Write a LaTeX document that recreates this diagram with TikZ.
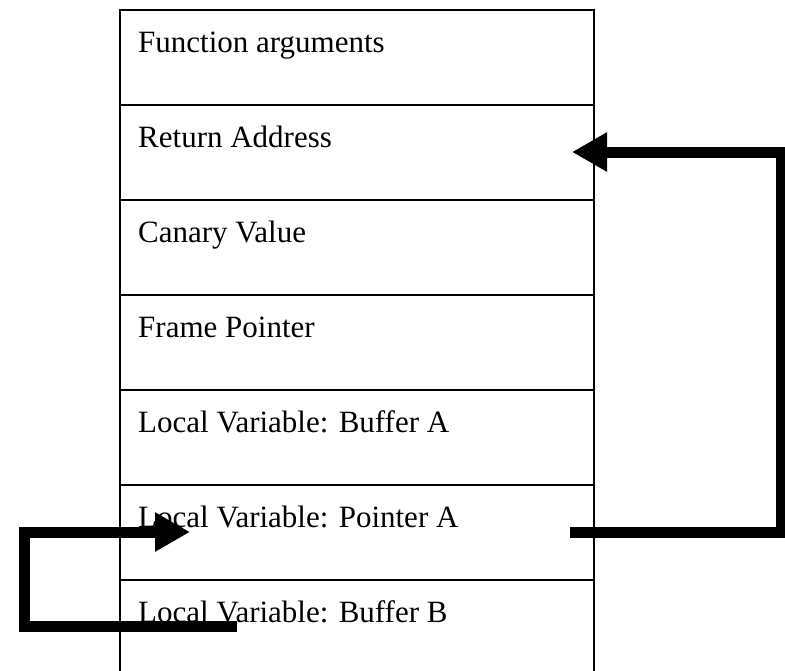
\documentclass[tikz,border=0pt]{standalone}
\usepackage{fontspec}
\setmainfont{Liberation Serif}
\usetikzlibrary{arrows.meta}
\tikzset{
  row/.style={draw=black, line width=2pt, minimum width=474pt, minimum height=95pt, anchor=north west, inner sep=0pt},
  lbl/.style={anchor=base west, inner sep=0pt, font=\fontsize{31}{37}\selectfont},
  bigarrow/.style={line width=11pt, line join=miter, -{Triangle[length=35pt,width=37pt]}}
}
\begin{document}
\begin{tikzpicture}[x=1pt,y=-1pt]
\useasboundingbox (0,0) rectangle (785,670);
\clip (0,0) rectangle (785,670);
\node[row] (r1) at (119,9) {};
\node[row] (r2) at (119,104) {};
\node[row] (r3) at (119,199) {};
\node[row] (r4) at (119,294) {};
\node[row] (r5) at (119,389) {};
\node[row] (r6) at (119,484) {};
\node[row] (r7) at (119,579) {};
\node[lbl] (t1) at (138,52) {Function arguments};
\node[lbl] (t2) at (138,147) {Return Address};
\node[lbl] (t3) at (138,242) {Canary Value};
\node[lbl] (t4) at (138,337) {Frame Pointer};
\node[lbl] (t5) at (138,432) {Local Variable: Buffer A};
\node[lbl] (t6) at (138,527) {Local Variable: Pointer A};
\node[lbl] (t7) at (138,622) {Local Variable: Buffer B};
\coordinate (ps) at (570,532);
\coordinate (pc1) at (781,532);
\coordinate (pc2) at (781,152);
\coordinate (ret) at (572,152);
\draw[bigarrow] (ps) -- (pc1) -- (pc2) -- (ret);
\coordinate (bs) at (237,626);
\coordinate (bc1) at (24,626);
\coordinate (bc2) at (24,532);
\coordinate (pa) at (190,532);
\draw[bigarrow] (bs) -- (bc1) -- (bc2) -- (pa);
\end{tikzpicture}
\end{document}
